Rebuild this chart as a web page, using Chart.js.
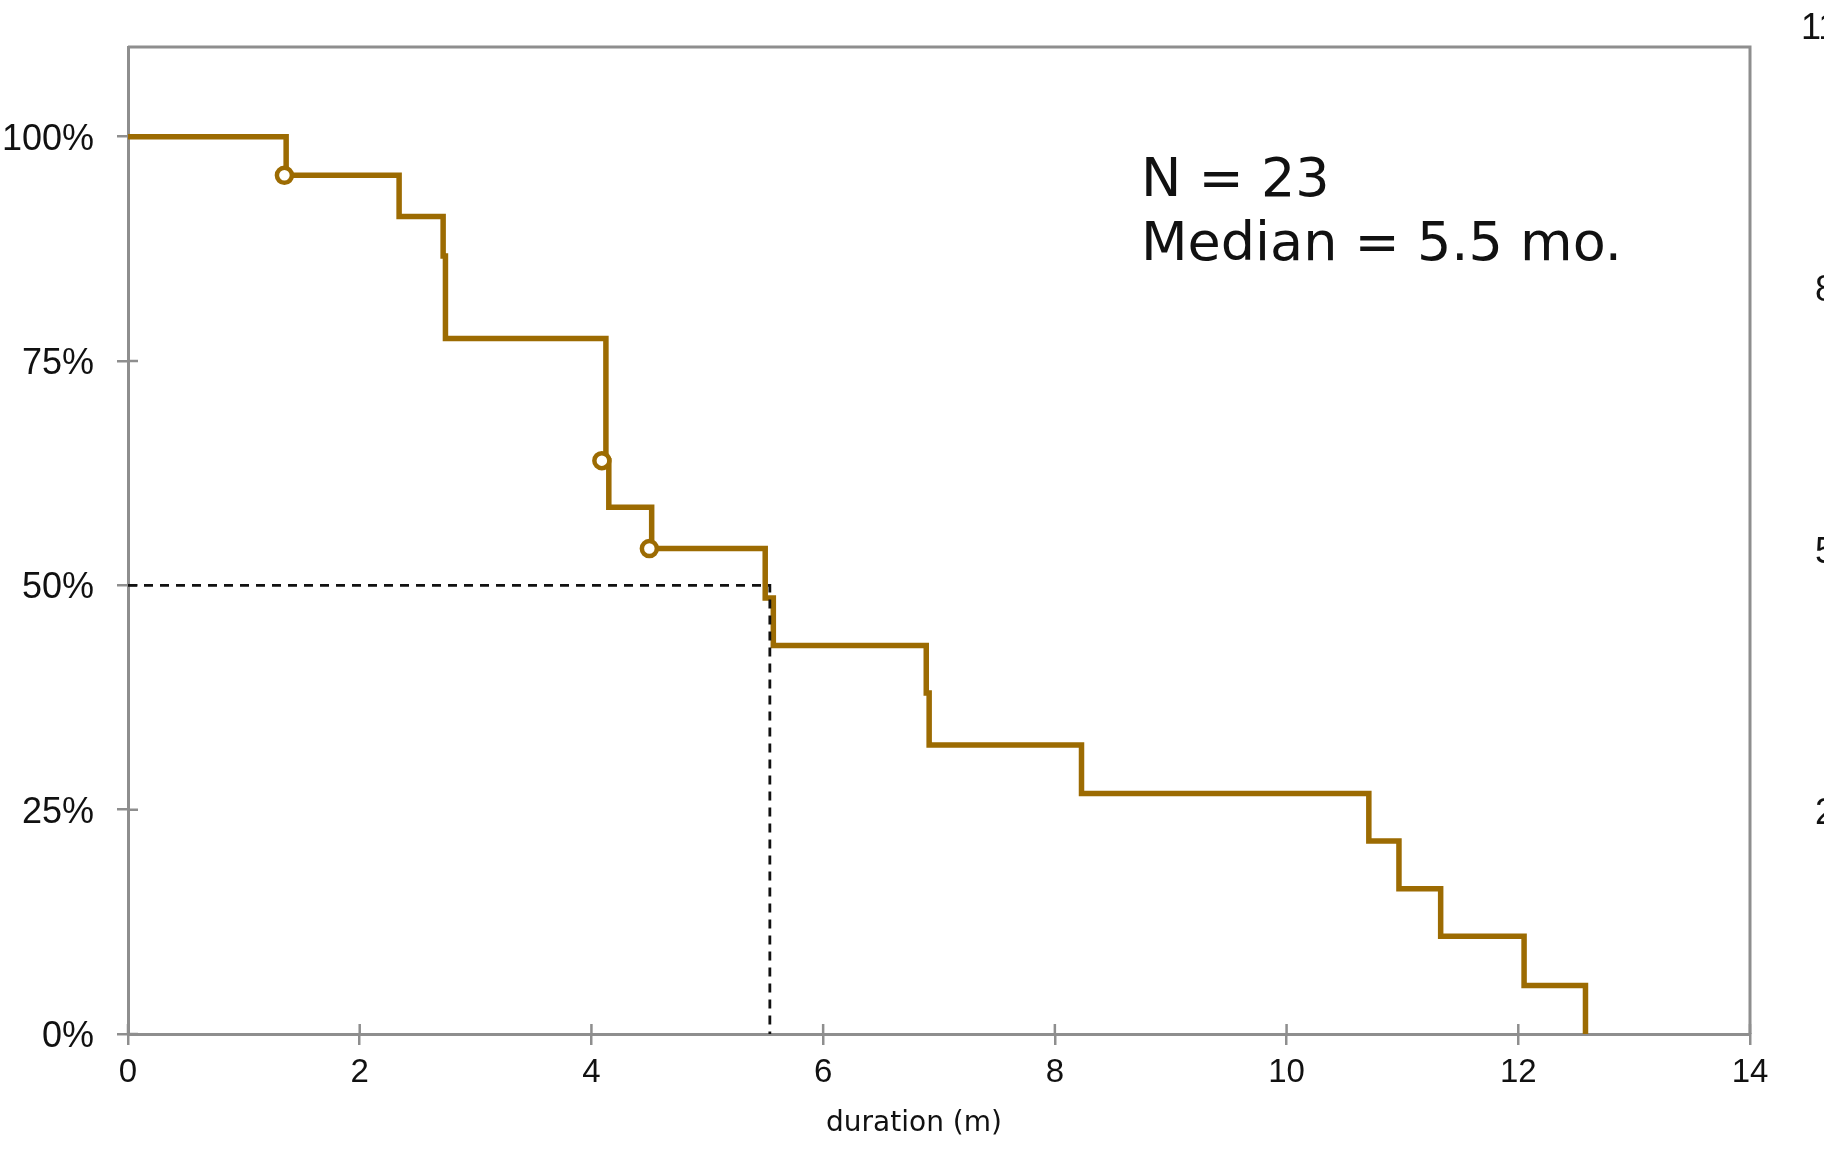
<!DOCTYPE html>
<html>
<head>
<meta charset="utf-8">
<title>duration</title>
<script src="https://cdn.jsdelivr.net/npm/chart.js@4.4.1/dist/chart.umd.min.js"></script>
<style>
  html, body { margin: 0; padding: 0; background: #fff; }
  #chart { display: block; }
</style>
</head>
<body>
<canvas id="chart" width="1824" height="1155"></canvas>
<script>
// Kaplan-Meier steps (months, % surviving)
const times = [0, 1.365, 2.34, 2.72, 2.74, 4.125, 4.15, 4.52, 5.50, 5.57, 6.89, 6.915, 8.23, 10.71, 10.97, 11.33, 12.05, 12.58];
const surv  = [100, 95.7, 91.1, 86.7, 77.5, 63.9, 58.7, 54.1, 48.6, 43.3, 38.0, 32.2, 26.8, 21.5, 16.2, 10.9, 5.4, 0];

// censored patients (circles)
const censorTimes = [1.35, 4.09, 4.50];
const censorSurv  = [95.7, 63.9, 54.1];

// median guide
const medianX = [0, 5.54, 5.54];
const medianY = [50, 50, 0];

const xTicks = [0, 2, 4, 6, 8, 10, 12, 14];
const yTicks = [0, 25, 50, 75, 100];
const xTitle = 'duration (m)';
const noteLines = ['N = 23', 'Median = 5.5 mo.'];
const edgeLabels = ['11', '8', '5', '2'];   // cut off at the right edge of the picture

const brown = '#9c6b02';
const axisGray = '#8e8e8e';
const tickFont = '"Liberation Sans", Arial, sans-serif';
const textFont = '"DejaVu Sans", Verdana, sans-serif';

const frame = {
  id: 'frame',
  beforeDatasetsDraw(chart) {
    const { ctx, chartArea: a, scales: { x, y } } = chart;
    ctx.save();
    ctx.strokeStyle = axisGray;
    ctx.lineWidth = 3;
    ctx.beginPath();
    ctx.moveTo(a.left, a.top);
    ctx.lineTo(a.right, a.top);
    ctx.lineTo(a.right, a.bottom);
    ctx.stroke();
    // inner half of the tick marks
    ctx.lineWidth = 2.5;
    ctx.beginPath();
    x.ticks.forEach(t => {
      const px = x.getPixelForValue(t.value);
      ctx.moveTo(px, a.bottom);
      ctx.lineTo(px, a.bottom - 10);
    });
    y.ticks.forEach(t => {
      const py = y.getPixelForValue(t.value);
      ctx.moveTo(a.left, py);
      ctx.lineTo(a.left + 10, py);
    });
    ctx.stroke();
    ctx.restore();
  },
  afterDraw(chart) {
    const { ctx } = chart;
    ctx.save();
    ctx.fillStyle = '#111';
    ctx.textBaseline = 'middle';
    ctx.textAlign = 'center';
    ctx.font = '28px ' + textFont;
    ctx.fillText(xTitle, 914, 1124);

    ctx.textAlign = 'left';
    ctx.textBaseline = 'alphabetic';
    ctx.font = '54px ' + textFont;
    noteLines.forEach((s, i) => ctx.fillText(s, 1141, 196 + i * 64));

    ctx.textBaseline = 'middle';
    ctx.font = '36px ' + tickFont;
    const ex = [1801, 1815, 1815, 1815];
    const ey = [29, 291, 553, 814];
    edgeLabels.forEach((s, i) => ctx.fillText(s, ex[i], ey[i]));
    ctx.restore();
  }
};

const ctx = document.getElementById('chart').getContext('2d');
new Chart(ctx, {
  type: 'line',
  data: {
    datasets: [
      {
        label: 'censored',
        data: censorTimes.map((t, i) => ({ x: t, y: censorSurv[i] })),
        showLine: false,
        pointRadius: 7.5,
        pointBorderWidth: 4.5,
        pointBackgroundColor: '#fff',
        pointBorderColor: brown,
        clip: false
      },
      {
        label: 'median',
        data: medianX.map((t, i) => ({ x: t, y: medianY[i] })),
        borderColor: '#111',
        borderWidth: 2.8,
        borderDash: [9, 7],
        pointRadius: 0,
        fill: false,
        clip: false
      },
      {
        label: 'survival',
        data: times.map((t, i) => ({ x: t, y: surv[i] })),
        stepped: 'before',
        borderColor: brown,
        borderWidth: 5.5,
        borderJoinStyle: 'miter',
        borderCapStyle: 'butt',
        pointRadius: 0,
        fill: false,
        clip: false
      }
    ]
  },
  options: {
    responsive: false,
    animation: false,
    layout: { padding: { top: 47, right: 74, left: 0, bottom: 0 } },
    plugins: { legend: { display: false }, tooltip: { enabled: false } },
    scales: {
      x: {
        type: 'linear',
        min: 0,
        max: 14,
        afterFit: s => { s.height = 121; },
        afterBuildTicks: s => { s.ticks = xTicks.map(v => ({ value: v })); },
        ticks: {
          padding: 8,
          color: '#111',
          font: { family: tickFont, size: 33 },
          maxRotation: 0
        },
        grid: { drawOnChartArea: false, drawTicks: true, tickLength: 11, color: axisGray, lineWidth: 2.5 },
        border: { display: true, color: axisGray, width: 3 }
      },
      y: {
        type: 'linear',
        min: 0,
        max: 110,
        afterFit: s => { s.width = 128; },
        afterBuildTicks: s => { s.ticks = yTicks.map(v => ({ value: v })); },
        ticks: {
          padding: 23,
          labelOffset: 3,
          color: '#111',
          font: { family: tickFont, size: 36 },
          callback: v => v + '%'
        },
        grid: { drawOnChartArea: false, drawTicks: true, tickLength: 11, color: axisGray, lineWidth: 2.5 },
        border: { display: true, color: axisGray, width: 3 }
      }
    }
  },
  plugins: [frame]
});
</script>
</body>
</html>
